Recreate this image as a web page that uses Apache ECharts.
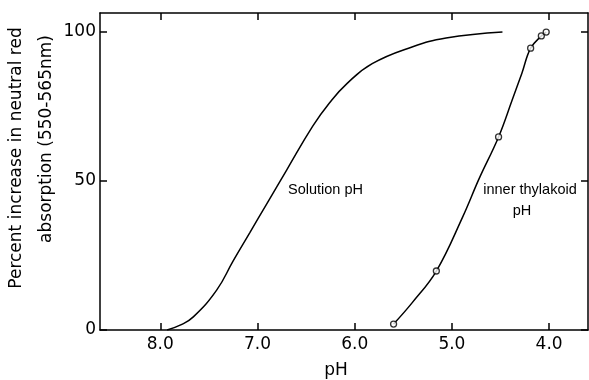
<!DOCTYPE html>
<html>
<head>
<meta charset="utf-8">
<script src="https://cdn.jsdelivr.net/npm/echarts@6/dist/echarts.min.js"></script>
<style>
html,body{margin:0;padding:0;background:#fff;}
#chart{width:589px;height:380px;}
</style>
</head>
<body>
<div id="chart"></div>
<script>
// pH tick values and labels
var xTicks = [8, 7, 6, 5, 4];
var yTicks = [0, 50, 100];

// Solution pH curve: [pH, percent increase]
var solutionCurve = [
  [7.93, 0], [7.79, 1.7], [7.66, 4.4], [7.42, 13.4], [7.25, 23.2],
  [7.08, 32.6], [6.90, 42.6], [6.70, 53.7], [6.43, 68.5], [6.26, 76.2],
  [6.08, 82.7], [5.82, 89.4], [5.41, 95.0], [5.06, 98.0], [4.48, 100]
];

// Inner thylakoid pH: measured points (circles)
var thylakoidPoints = [
  [5.60, 2.0], [5.16, 19.8], [4.52, 64.8], [4.19, 94.6], [4.08, 98.7], [4.03, 100]
];
// Inner thylakoid pH: traced line through the points
var thylakoidCurve = [
  [5.60, 2.0], [5.41, 9.1], [5.16, 19.8], [4.89, 37.9], [4.72, 50.8],
  [4.52, 64.8], [4.38, 77.2], [4.28, 86.2], [4.19, 94.6], [4.08, 98.7], [4.03, 100]
];

var font = 'DejaVu Sans';
var chart = echarts.init(document.getElementById('chart'));
function axisLine() { return {show: true, onZero: false, lineStyle: {color: '#000', width: 1.5}}; }
function ticks(vals) { return {show: true, inside: true, length: 7, customValues: vals, lineStyle: {color: '#000', width: 1.5}}; }
function blankLabels(vals) { return {show: true, customValues: vals, formatter: function () { return ''; }}; }

chart.setOption({
  animation: false,
  backgroundColor: '#fff',
  grid: {left: 100, right: 1, top: 13, bottom: 50, containLabel: false, outerBoundsMode: 'none'},
  xAxis: [{
    type: 'value', inverse: true, min: 3.6, max: 8.62, position: 'bottom',
    axisLine: axisLine(),
    splitLine: {show: false},
    axisTick: ticks(xTicks),
    axisLabel: {customValues: xTicks, margin: 6, color: '#000', fontFamily: font, fontSize: 17,
      formatter: function (v) { return v.toFixed(1); }}
  }, {
    type: 'value', inverse: true, min: 3.6, max: 8.62, position: 'top',
    axisLine: axisLine(),
    splitLine: {show: false},
    axisTick: ticks(xTicks),
    axisLabel: blankLabels(xTicks)
  }],
  yAxis: [{
    type: 'value', min: 0, max: 106.4, position: 'left',
    axisLine: axisLine(),
    splitLine: {show: false},
    axisTick: ticks(yTicks),
    axisLabel: {customValues: yTicks, margin: 4, color: '#000', fontFamily: font, fontSize: 17}
  }, {
    type: 'value', min: 0, max: 106.4, position: 'right',
    axisLine: axisLine(),
    splitLine: {show: false},
    axisTick: ticks(yTicks),
    axisLabel: blankLabels(yTicks)
  }],
  series: [{
    type: 'line', data: solutionCurve, smooth: 0.45, showSymbol: false,
    lineStyle: {color: '#000', width: 1.5}
  }, {
    type: 'line', data: thylakoidCurve, smooth: 0.4, showSymbol: false,
    xAxisIndex: 1, yAxisIndex: 1,
    lineStyle: {color: '#000', width: 1.5}
  }, {
    type: 'scatter', data: thylakoidPoints, symbol: 'circle', symbolSize: 6,
    xAxisIndex: 1, yAxisIndex: 1,
    itemStyle: {color: '#fff', borderColor: '#000', borderWidth: 1.3}, z: 5
  }],
  graphic: [
    {type: 'text', x: 17, y: 158, rotation: Math.PI / 2,
      style: {text: 'Percent increase in neutral red', x: 0, y: 0, align: 'center', verticalAlign: 'middle',
        fill: '#000', font: '17px "DejaVu Sans"'}},
    {type: 'text', x: 47, y: 139, rotation: Math.PI / 2,
      style: {text: 'absorption (550-565nm)', x: 0, y: 0, align: 'center', verticalAlign: 'middle',
        fill: '#000', font: '17px "DejaVu Sans"'}},
    {type: 'text', x: 336, y: 371,
      style: {text: 'pH', x: 0, y: 0, align: 'center', verticalAlign: 'middle',
        fill: '#000', font: '17px "DejaVu Sans"'}},
    {type: 'text', x: 288, y: 190,
      style: {text: 'Solution pH', x: 0, y: 0, align: 'left', verticalAlign: 'middle',
        fill: '#000', font: '14.5px "Liberation Sans"'}},
    {type: 'text', x: 530, y: 190,
      style: {text: 'inner thylakoid', x: 0, y: 0, align: 'center', verticalAlign: 'middle',
        fill: '#000', font: '14.5px "Liberation Sans"'}},
    {type: 'text', x: 522, y: 211,
      style: {text: 'pH', x: 0, y: 0, align: 'center', verticalAlign: 'middle',
        fill: '#000', font: '14.5px "Liberation Sans"'}}
  ]
});
</script>
</body>
</html>
